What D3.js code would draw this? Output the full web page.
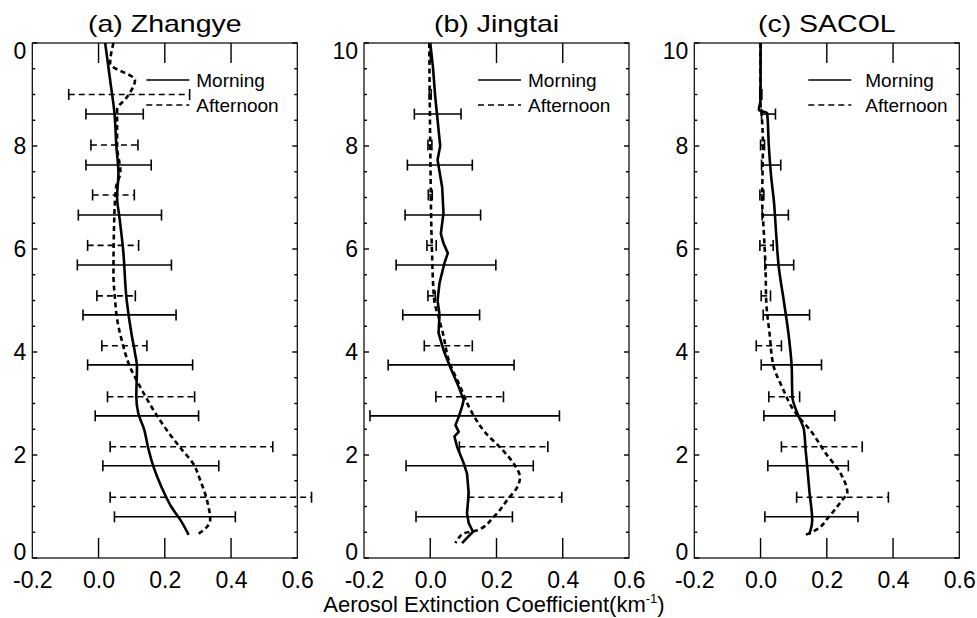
<!DOCTYPE html>
<html>
<head>
<meta charset="utf-8">
<script src="https://cdn.jsdelivr.net/npm/d3@7"></script>
<style>
  body { margin: 0; background: #fff; }
  text { font-family: "Liberation Sans", Arial, sans-serif; fill: #000; }
</style>
</head>
<body>
<svg id="chart" width="977" height="618"></svg>
<script>
// x ticks shared by all panels
const xTicks = [-0.2, 0.0, 0.2, 0.4, 0.6]
const yTicks = [0, 2, 4, 6, 8, 10]
const yMinor = [0.5, 1, 1.5, 2.5, 3, 3.5, 4.5, 5, 5.5, 6.5, 7, 7.5, 8.5, 9, 9.5]
const yLabelsA = ['0', '2', '4', '6', '8', '0']
const yLabelsBC = ['0', '2', '4', '6', '8', '10']

// altitudes of the error bars (km)
const barAltMorning = [0.8, 1.79, 2.76, 3.75, 4.72, 5.69, 6.66, 7.63, 8.62]
const barAltAfternoon = [1.18, 2.16, 3.13, 4.12, 5.09, 6.07, 7.05, 8.02, 9.0]

// (a) Zhangye
const altMorningA = [10, 9.28, 8.64, 7.98, 7.47, 7.0, 6.62, 6.0, 5.0, 4.37, 3.98, 3.71, 3.13, 2.81, 2.49, 2.16, 1.77, 1.38, 0.99, 0.74, 0.45]
const extMorningA = [0.02, 0.035, 0.048, 0.054, 0.06, 0.056, 0.063, 0.074, 0.085, 0.099, 0.11, 0.116, 0.114, 0.12, 0.138, 0.149, 0.166, 0.19, 0.22, 0.247, 0.272]
const altAfternoonA = [10, 9.6, 9.28, 8.96, 8.7, 8.0, 7.5, 7.2, 6.5, 5.5, 5.0, 4.68, 4.23, 3.71, 3.32, 2.87, 2.43, 2.1, 1.84, 1.51, 1.13, 0.74, 0.54, 0.45]
const extAfternoonA = [0.045, 0.035, 0.11, 0.087, 0.056, 0.056, 0.066, 0.053, 0.047, 0.045, 0.05, 0.055, 0.07, 0.095, 0.126, 0.166, 0.212, 0.252, 0.285, 0.307, 0.327, 0.337, 0.317, 0.297]
const barLoMorningA = [0.048, 0.013, -0.01, -0.033, -0.047, -0.064, -0.061, -0.038, -0.038]
const barHiMorningA = [0.413, 0.363, 0.302, 0.284, 0.234, 0.22, 0.19, 0.159, 0.135]
const barLoAfternoonA = [0.035, 0.035, 0.027, 0.01, -0.005, -0.033, -0.018, -0.023, -0.09]
const barHiAfternoonA = [0.643, 0.526, 0.29, 0.146, 0.111, 0.121, 0.108, 0.119, 0.275]

// (b) Jingtai
const altMorningB = [10, 9.54, 8.96, 8.64, 8.0, 7.73, 7.2, 6.7, 6.3, 6.11, 5.92, 5.73, 5.34, 5.0, 4.72, 4.37, 4.04, 3.71, 3.4, 3.07, 2.94, 2.74, 2.58, 2.45, 2.36, 2.16, 2.0, 1.84, 1.64, 1.26, 0.87, 0.68, 0.51, 0.39, 0.29]
const extMorningB = [0.0, 0.008, 0.015, 0.02, 0.03, 0.022, 0.036, 0.04, 0.032, 0.04, 0.053, 0.043, 0.028, 0.022, 0.028, 0.025, 0.04, 0.06, 0.081, 0.101, 0.096, 0.086, 0.076, 0.086, 0.073, 0.081, 0.091, 0.101, 0.111, 0.116, 0.111, 0.116, 0.129, 0.111, 0.096]
const altAfternoonB = [10, 8, 6, 5.0, 4.68, 4.37, 3.84, 3.32, 2.87, 2.43, 2.1, 1.77, 1.57, 1.38, 1.13, 0.8, 0.54, 0.48, 0.39, 0.29]
const extAfternoonB = [-0.003, 0.0, 0.005, 0.012, 0.025, 0.038, 0.056, 0.091, 0.122, 0.167, 0.218, 0.258, 0.271, 0.263, 0.233, 0.192, 0.142, 0.101, 0.086, 0.076]
const barLoMorningB = [-0.043, -0.073, -0.182, -0.127, -0.083, -0.103, -0.076, -0.069, -0.048]
const barHiMorningB = [0.248, 0.311, 0.39, 0.253, 0.149, 0.198, 0.152, 0.127, 0.093]
const barLoAfternoonB = [0.115, 0.088, 0.017, -0.018, -0.007, -0.01, -0.006, -0.007, -0.003]
const barHiAfternoonB = [0.397, 0.355, 0.221, 0.127, 0.015, 0.018, 0.006, 0.005, 0.003]

// (c) SACOL
const altMorningC = [10, 8.9, 8.7, 8.64, 8.0, 7.34, 6.95, 6.31, 5.65, 5.0, 4.37, 3.71, 3.13, 2.81, 2.49, 2.1, 1.77, 1.26, 0.74, 0.54, 0.45]
const extMorningC = [0.0, 0.0, -0.005, 0.02, 0.025, 0.033, 0.04, 0.047, 0.055, 0.07, 0.084, 0.094, 0.096, 0.111, 0.131, 0.136, 0.141, 0.148, 0.156, 0.151, 0.146]
const altAfternoonC = [10, 8.8, 8.64, 8.0, 6.95, 6.31, 5.65, 5.0, 4.37, 3.71, 3.32, 2.87, 2.43, 2.04, 1.64, 1.26, 1.13, 0.8, 0.54, 0.45]
const extAfternoonC = [0.0, 0.0, 0.003, 0.007, 0.005, 0.01, 0.015, 0.017, 0.027, 0.04, 0.065, 0.1, 0.156, 0.196, 0.242, 0.262, 0.247, 0.206, 0.166, 0.136]
const barLoMorningC = [0.013, 0.022, 0.01, 0.002, 0.008, 0.013, 0.005, 0.003, 0.003]
const barHiMorningC = [0.294, 0.265, 0.224, 0.184, 0.148, 0.1, 0.084, 0.061, 0.045]
const barLoAfternoonC = [0.109, 0.063, 0.025, -0.013, 0.002, -0.002, -0.002, 0.0, -0.002]
const barHiAfternoonC = [0.386, 0.307, 0.118, 0.063, 0.03, 0.038, 0.01, 0.012, 0.004]

const legendLabels = ['Morning', 'Afternoon']
const xAxisTitle = 'Aerosol Extinction Coefficient(km'

const svg = d3.select('#chart')
const plotTop = 43, plotBottom = 558, plotW = 265

const zip = (a, b) => a.map((v, i) => ({ alt: v, ext: b[i] }))
const zipBars = (alt, lo, hi) => alt.map((v, i) => ({ alt: v, lo: lo[i], hi: hi[i] }))

const panels = [
    { title: '(a) Zhangye', left: 32.3, yLabels: yLabelsA, legendGap: 7, smoothMorning: true,
      morning: zip(altMorningA, extMorningA), afternoon: zip(altAfternoonA, extAfternoonA),
      barsM: zipBars(barAltMorning, barLoMorningA, barHiMorningA),
      barsA: zipBars(barAltAfternoon, barLoAfternoonA, barHiAfternoonA) },
    { title: '(b) Jingtai', left: 364, yLabels: yLabelsBC, legendGap: 7, smoothMorning: false,
      morning: zip(altMorningB, extMorningB), afternoon: zip(altAfternoonB, extAfternoonB),
      barsM: zipBars(barAltMorning, barLoMorningB, barHiMorningB),
      barsA: zipBars(barAltAfternoon, barLoAfternoonB, barHiAfternoonB) },
    { title: '(c) SACOL', left: 694.3, yLabels: yLabelsBC, legendGap: 14, smoothMorning: true,
      morning: zip(altMorningC, extMorningC), afternoon: zip(altAfternoonC, extAfternoonC),
      barsM: zipBars(barAltMorning, barLoMorningC, barHiMorningC),
      barsA: zipBars(barAltAfternoon, barLoAfternoonC, barHiAfternoonC) }
]

const renderPanel = p => {
    const xScale = d3.scaleLinear().domain([-0.2, 0.6]).range([p.left, p.left + plotW])
    const yScale = d3.scaleLinear().domain([0, 10]).range([plotBottom, plotTop])

    const g = svg.append('g')

    const fmt = d => d.toFixed(1)

    // tick labels from d3 axes
    const xb = g.append('g').attr('transform', `translate(0,${plotBottom})`)
        .call(d3.axisBottom(xScale).tickValues(xTicks).tickSize(0).tickPadding(14).tickFormat(fmt))
    xb.select('.domain').remove()
    xb.selectAll('text').attr('font-size', 23)

    const yl = g.append('g').attr('transform', `translate(${p.left},0)`)
        .call(d3.axisLeft(yScale).tickValues(yTicks).tickSize(0).tickPadding(6)
            .tickFormat((d, i) => p.yLabels[i]))
    yl.select('.domain').remove()
    yl.selectAll('text').attr('font-size', 23)
        .attr('y', d => d === 10 ? 8 : d === 0 ? -6 : 0)

    // frame
    g.append('rect')
        .attr('x', xScale(-0.2)).attr('y', plotTop)
        .attr('width', plotW).attr('height', plotBottom - plotTop)
        .attr('fill', 'none').attr('stroke', '#000').attr('stroke-width', 1.2)

    // tick marks as thin filled rects, inward on all four sides
    const ticks = g.append('g').attr('fill', '#000')
    const xInner = xTicks.slice(1, -1)
    ticks.selectAll('.xb').data(xInner).enter().append('rect')
        .attr('x', d => xScale(d) - 0.7).attr('width', 1.4)
        .attr('y', plotBottom - 20).attr('height', 20)
    ticks.selectAll('.xt').data(xInner).enter().append('rect')
        .attr('x', d => xScale(d) - 0.7).attr('width', 1.4)
        .attr('y', plotTop).attr('height', 20)
    const yAll = yTicks.map(v => ({ v, len: 5 })).concat(yMinor.map(v => ({ v, len: 3 })))
    ticks.selectAll('.yl').data(yAll).enter().append('rect')
        .attr('x', p.left).attr('width', d => d.len)
        .attr('y', d => yScale(d.v) - 0.7).attr('height', 1.4)
    ticks.selectAll('.yr').data(yAll).enter().append('rect')
        .attr('x', d => p.left + plotW - d.len).attr('width', d => d.len)
        .attr('y', d => yScale(d.v) - 0.7).attr('height', 1.4)

    // error bars
    const drawBars = (bars, dash) => {
        const b = g.append('g').attr('stroke', '#000').attr('stroke-width', 1.6).attr('fill', 'none')
        b.selectAll('.bar').data(bars).enter().append('line')
            .attr('x1', d => xScale(d.lo)).attr('x2', d => xScale(d.hi))
            .attr('y1', d => yScale(d.alt)).attr('y2', d => yScale(d.alt))
            .attr('stroke-dasharray', dash)
        b.selectAll('.capL').data(bars).enter().append('line')
            .attr('x1', d => xScale(d.lo)).attr('x2', d => xScale(d.lo))
            .attr('y1', d => yScale(d.alt) - 5.5).attr('y2', d => yScale(d.alt) + 5.5)
        b.selectAll('.capR').data(bars).enter().append('line')
            .attr('x1', d => xScale(d.hi)).attr('x2', d => xScale(d.hi))
            .attr('y1', d => yScale(d.alt) - 5.5).attr('y2', d => yScale(d.alt) + 5.5)
    }
    drawBars(p.barsM, null)
    drawBars(p.barsA, '6,4')

    const line = curve => d3.line()
        .x(d => xScale(d.ext))
        .y(d => yScale(d.alt))
        .curve(curve)

    g.append('path')
        .attr('d', line(d3.curveMonotoneY)(p.afternoon))
        .attr('fill', 'none').attr('stroke', '#000').attr('stroke-width', 2.6)
        .attr('stroke-dasharray', '5,3.5')

    g.append('path')
        .attr('d', line(p.smoothMorning ? d3.curveMonotoneY : d3.curveLinear)(p.morning))
        .attr('fill', 'none').attr('stroke', '#000').attr('stroke-width', 2.6)
        .attr('stroke-linejoin', 'round')

    // legend
    const lx0 = p.left + 114, lx1 = p.left + 157
    const legY = [80, 105]
    legendLabels.forEach((lab, i) => {
        g.append('line')
            .attr('x1', lx0).attr('x2', lx1)
            .attr('y1', legY[i]).attr('y2', legY[i])
            .attr('stroke', '#000').attr('stroke-width', 1.6)
            .attr('stroke-dasharray', i === 1 ? '6,4' : null)
        g.append('text')
            .attr('x', lx1 + p.legendGap).attr('y', legY[i] + 6.5)
            .attr('font-size', 19)
            .text(lab)
    })

    // title, stretched horizontally like the original
    g.append('text')
        .attr('transform', `translate(${p.left + plotW / 2},32) scale(1.24,1)`)
        .attr('text-anchor', 'middle')
        .attr('font-size', 23)
        .text(p.title)
}

panels.forEach(renderPanel)

const xl = svg.append('text')
    .attr('x', 494).attr('y', 612)
    .attr('text-anchor', 'middle')
    .attr('font-size', 22)
xl.append('tspan').text(xAxisTitle)
xl.append('tspan').attr('font-size', 13).attr('dy', -9).text('-1')
xl.append('tspan').attr('dy', 9).text(')')
</script>
</body>
</html>
